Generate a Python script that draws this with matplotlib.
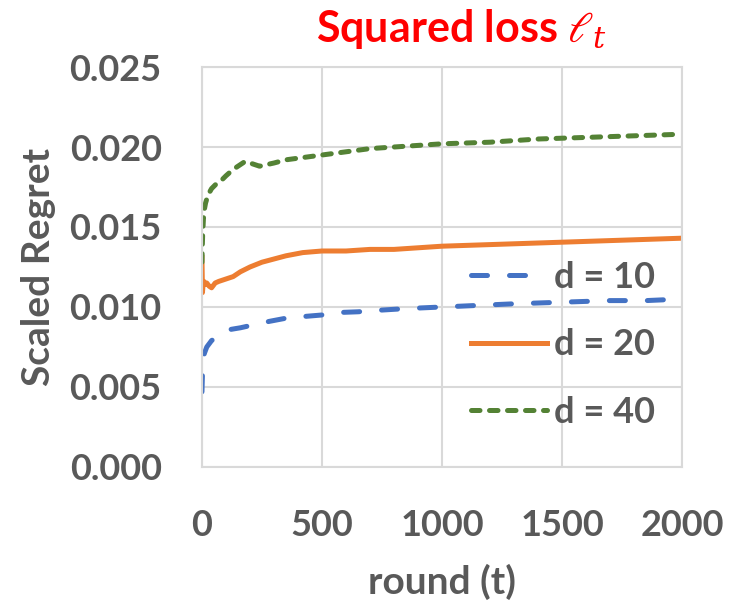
import numpy as np
import matplotlib.pyplot as plt

plt.rcParams['font.family'] = ['Lato', 'DejaVu Sans']
plt.rcParams['mathtext.fontset'] = 'dejavuserif'

# d = 10
t10 = [0, 2, 5, 10, 20, 40, 60, 90, 120, 160, 220, 280, 350, 420, 500, 560,
       650, 740, 850, 1000, 1150, 1300, 1500, 1700, 1850, 2000]
r10 = [0.0047, 0.0058, 0.0066, 0.0071, 0.0075, 0.0079, 0.0081, 0.0084, 0.0086,
       0.0087, 0.0089, 0.0091, 0.0093, 0.0094, 0.0095, 0.00965, 0.0097, 0.0098,
       0.0099, 0.0100, 0.0101, 0.0102, 0.0103, 0.0104, 0.0104, 0.0105]

# d = 20
t20 = [0, 1, 2, 4, 8, 12, 20, 30, 40, 55, 70, 90, 110, 130, 160, 200, 250, 300,
       350, 420, 500, 600, 700, 800, 900, 1000, 1200, 1400, 1600, 1800, 2000]
r20 = [0.0131, 0.0120, 0.0109, 0.0113, 0.0116, 0.0114, 0.0115, 0.0113, 0.0112,
       0.0115, 0.0116, 0.0117, 0.0118, 0.0119, 0.0122, 0.0125, 0.0128, 0.0130,
       0.0132, 0.0134, 0.0135, 0.0135, 0.0136, 0.0136, 0.0137, 0.0138, 0.0139,
       0.0140, 0.0141, 0.0142, 0.0143]

# d = 40
t40 = [0, 1, 3, 6, 10, 15, 25, 40, 60, 80, 100, 130, 160, 180, 200, 220, 240,
       270, 300, 350, 400, 500, 600, 700, 800, 900, 1000, 1200, 1400, 1600, 1800, 2000]
r40 = [0.0128, 0.0136, 0.0146, 0.0155, 0.0161, 0.0165, 0.0170, 0.0174, 0.0177,
       0.0179, 0.0182, 0.0186, 0.0189, 0.0191, 0.0190, 0.0189, 0.0188, 0.0189,
       0.0190, 0.0192, 0.0193, 0.0195, 0.0197, 0.0199, 0.0200, 0.0201, 0.0202,
       0.0203, 0.0205, 0.0206, 0.0207, 0.0208]

xticks = [0, 500, 1000, 1500, 2000]
yticks = [0.000, 0.005, 0.010, 0.015, 0.020, 0.025]

gray = "#595959"
grid = "#D9D9D9"

fig = plt.figure(figsize=(7.31, 6.01), dpi=100)
ax = fig.add_axes([0.2763, 0.2230, 0.6567, 0.6655])

ax.plot(t10, r10, color="#4472C4", lw=3.6, ls=(0, (3.2, 4.4)), label="d = 10",
        dash_capstyle="round")
ax.plot(t20, r20, color="#ED7D31", lw=3.6, label="d = 20")
ax.plot(t40, r40, color="#548235", lw=3.6, ls=(0, (1.7, 1.9)), label="d = 40",
        dash_capstyle="round")

ax.set_xlim(0, 2000)
ax.set_ylim(0, 0.025)
ax.set_xticks(xticks)
ax.set_yticks(yticks)
ax.set_xticklabels([str(x) for x in xticks])
ax.set_yticklabels(["%.3f" % y for y in yticks])
ax.tick_params(length=0, labelsize=26, labelcolor=gray)
ax.tick_params(axis="y", pad=29)
ax.tick_params(axis="x", pad=30)
for lab in ax.get_xticklabels() + ax.get_yticklabels():
    lab.set_fontweight("bold")

ax.grid(True, color=grid, lw=1.5)
ax.set_axisbelow(True)
for sp in ax.spines.values():
    sp.set_color(grid)
    sp.set_linewidth(1.5)

ax.set_xlabel("round (t)", fontsize=28, fontweight="bold", color=gray, labelpad=16)
ax.set_ylabel("Scaled Regret", fontsize=28, fontweight="bold", color=gray, labelpad=10)

ax.set_title(r"Squared loss $\ell_t$", fontsize=31, fontweight="bold",
             color="#FF0000", x=0.54, pad=18)

leg = ax.legend(loc="upper right", bbox_to_anchor=(0.982, 0.56), frameon=False,
                fontsize=26, handlelength=2.1, labelspacing=0.95, handletextpad=0.2,
                borderpad=0)
for txt in leg.get_texts():
    txt.set_color(gray)
    txt.set_fontweight("bold")

fig.savefig("out.png", dpi=100)
